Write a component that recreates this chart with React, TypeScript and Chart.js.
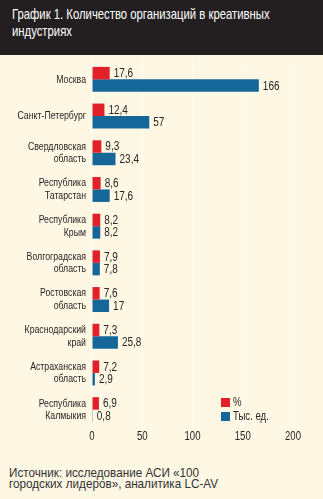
import React, { useEffect, useRef } from "react";
import { Chart, registerables } from "chart.js";

Chart.register(...registerables);

const categories: string[][] = [
  ["Москва"],
  ["Санкт-Петербург"],
  ["Свердловская", "область"],
  ["Республика", "Татарстан"],
  ["Республика", "Крым"],
  ["Волгоградская", "область"],
  ["Ростовская", "область"],
  ["Краснодарский", "край"],
  ["Астраханская", "область"],
  ["Республика", "Калмыкия"],
];
const percentValues = [17.6, 12.4, 9.3, 8.6, 8.2, 7.9, 7.6, 7.3, 7.2, 6.9];
const countValues = [166, 57, 23.4, 17.6, 8.2, 7.8, 17, 25.8, 2.9, 0.8];
const xTicks = [0, 50, 100, 150, 200];
const seriesNames = ["%", "Тыс. ед."];

const titleText = ["График 1. Количество организаций в креативных", "индустриях"];
const sourceText = ["Источник: исследование АСИ «100", "городских лидеров», аналитика LC-AV"];

const RED = "#e2202a";
const BLUE = "#15679a";
const TEXT = "#2a2526";
const SANS = "'Liberation Sans', Arial, sans-serif";

const fmt = (v: number) => String(v).replace(".", ",");

function drawText(
  ctx: CanvasRenderingContext2D,
  text: string,
  x: number,
  y: number,
  align: CanvasTextAlign,
  size: number,
  sx: number
) {
  ctx.save();
  ctx.translate(x, y);
  ctx.scale(sx, 1);
  ctx.font = `${size}px ${SANS}`;
  ctx.fillStyle = TEXT;
  ctx.textAlign = align;
  ctx.textBaseline = "middle";
  ctx.fillText(text, 0, 0);
  ctx.restore();
}

const textLayer = {
  id: "textLayer",
  afterDraw(chart: any) {
    const ctx = chart.ctx as CanvasRenderingContext2D;
    const area = chart.chartArea;
    const ys = chart.scales.y;
    const xs = chart.scales.x;

    // category labels
    categories.forEach((lines, i) => {
      const cy = ys.getPixelForValue(i);
      const lh = 12.5;
      lines.forEach((t, j) => {
        drawText(ctx, t, area.left - 6, cy + (j - (lines.length - 1) / 2) * lh, "right", 11.5, 0.76);
      });
    });

    // x tick labels
    xTicks.forEach((v) => {
      drawText(ctx, String(v), xs.getPixelForValue(v), area.bottom + 9, "center", 12, 0.8);
    });

    // value labels
    chart.data.datasets.forEach((ds: any, di: number) => {
      const meta = chart.getDatasetMeta(di);
      meta.data.forEach((bar: any, i: number) => {
        drawText(ctx, fmt(ds.data[i]), bar.x + 4, bar.y + 0.5, "left", 12.5, 0.8);
      });
    });

    // legend
    chart.data.datasets.forEach((ds: any, i: number) => {
      const x = area.right - 72;
      const y = area.bottom - 30 + i * 14;
      ctx.save();
      ctx.fillStyle = ds.backgroundColor;
      ctx.fillRect(x, y, 9, 9);
      ctx.restore();
      drawText(ctx, ds.label, x + 12, y + 4.5, "left", 12, 0.8);
    });
  },
};

export default function App() {
  const ref = useRef<HTMLCanvasElement>(null);

  useEffect(() => {
    document.body.style.margin = "0";
    if (!ref.current) return;
    const chart = new Chart(ref.current, {
      type: "bar",
      data: {
        labels: categories.map((c) => c.join(" ")),
        datasets: [
          {
            label: seriesNames[0],
            data: percentValues,
            backgroundColor: RED,
            categoryPercentage: 0.68,
            barPercentage: 1.0,
          },
          {
            label: seriesNames[1],
            data: countValues,
            backgroundColor: BLUE,
            categoryPercentage: 0.68,
            barPercentage: 1.0,
          },
        ],
      },
      options: {
        indexAxis: "y",
        animation: false,
        responsive: true,
        maintainAspectRatio: false,
        layout: { padding: { top: 6, right: 30, left: 0, bottom: 0 } },
        plugins: {
          legend: { display: false },
          tooltip: { enabled: false },
        },
        scales: {
          x: {
            min: 0,
            max: 200,
            afterBuildTicks: (s: any) => {
              s.ticks = xTicks.map((v) => ({ value: v }));
            },
            afterFit: (s: any) => {
              s.height = 27;
            },
            grid: { color: "rgba(255,255,255,0.8)", drawTicks: false },
            border: { display: false },
            ticks: { display: false },
          },
          y: {
            afterFit: (s: any) => {
              s.width = 92;
            },
            grid: { display: false, drawTicks: false },
            border: { display: false },
            ticks: { display: false },
          },
        },
      },
      plugins: [textLayer],
    } as any);
    return () => chart.destroy();
  }, []);

  return (
    <div
      style={{
        position: "absolute",
        left: 0,
        top: 0,
        width: 323,
        height: 499,
        background: "#fdf7e3",
        overflow: "hidden",
      }}
    >
      <div
        style={{
          position: "absolute",
          left: 0,
          top: 0,
          width: 323,
          height: 55,
          background: "#231f20",
        }}
      >
        <div
          style={{
            position: "absolute",
            left: 12,
            top: 6,
            color: "#ffffff",
            fontFamily: SANS,
            fontSize: 14.5,
            lineHeight: "17px",
            whiteSpace: "nowrap",
            transform: "scaleX(0.78)",
            transformOrigin: "left top",
          }}
        >
          {titleText.map((t, i) => (
            <div key={i}>{t}</div>
          ))}
        </div>
      </div>
      <div style={{ position: "absolute", left: 0, top: 55, width: 323, height: 400 }}>
        <canvas ref={ref} />
      </div>
      <div
        style={{
          position: "absolute",
          left: 9,
          top: 468,
          color: "#333",
          fontFamily: SANS,
          fontSize: 13,
          lineHeight: "10.5px",
          whiteSpace: "nowrap",
          transform: "scaleX(0.9)",
          transformOrigin: "left top",
        }}
      >
        {sourceText.map((t, i) => (
          <div key={i}>{t}</div>
        ))}
      </div>
    </div>
  );
}
